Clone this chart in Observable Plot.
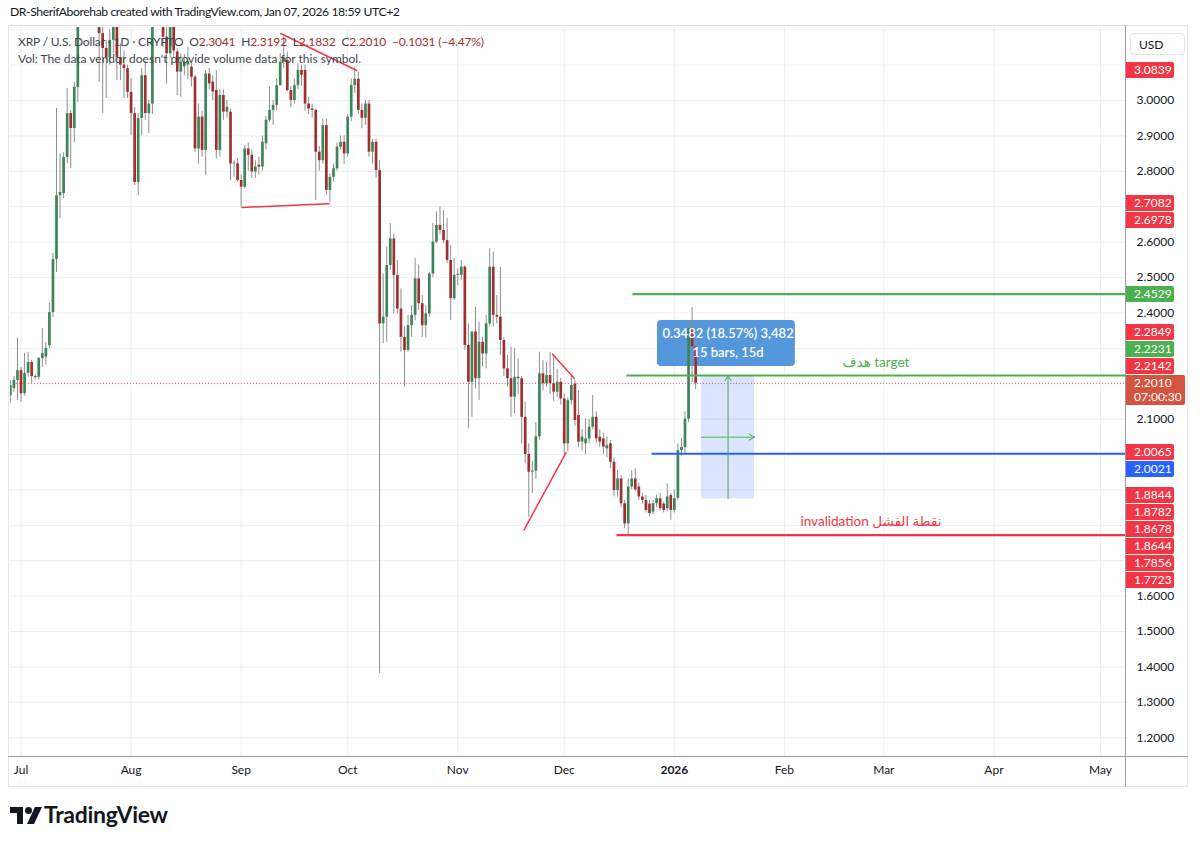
<!DOCTYPE html>
<html><head><meta charset="utf-8">
<script src="https://cdn.jsdelivr.net/npm/d3@7"></script>
<script src="https://cdn.jsdelivr.net/npm/@observablehq/plot@0.6"></script>
<style>
html,body{margin:0;padding:0;background:#fff;overflow:hidden;}
#wrap{position:relative;width:1200px;height:843px;font-family:Lato,"Noto Sans","DejaVu Sans",sans-serif;color:#131722;}
#wrap svg{position:absolute;left:0;top:0;}
.ov{position:absolute;white-space:nowrap;}
.plab{position:absolute;left:1126px;width:48px;height:16px;line-height:16px;font-size:12px;color:#fff;padding-left:8px;box-sizing:border-box;border-radius:0 2px 2px 0;}
</style></head>
<body><div id="wrap"></div>
<script>
// ---------- data (daily candles, first candle 2025-06-28) ----------
const firstDay = "2025-06-28";
const open = [
2.166,2.186,2.209,2.237,2.172,2.229,2.260,2.220,2.218,2.271,
2.275,2.307,2.401,2.551,2.731,2.737,2.839,2.963,2.921,3.037,
3.43,3.51,3.45,3.50,3.53,3.47,3.189,3.147,3.12,3.17,
3.25,3.121,3.10,3.09,3.023,2.963,2.768,2.949,3.07,2.963,
2.99,3.30,3.33,3.25,3.179,3.132,3.24,3.137,3.080,3.095,
3.10,3.094,3.066,2.863,2.953,2.859,3.075,3.052,3.028,2.859,
3.014,2.967,2.967,2.821,2.821,2.774,2.755,2.863,2.845,2.798,
2.817,2.812,2.878,2.944,2.972,2.986,3.042,3.108,3.113,3.028,
3.0,3.042,3.085,3.085,2.99,2.976,2.972,2.854,2.83,2.929,
2.746,2.783,2.807,2.868,2.882,2.849,2.953,3.042,3.06,2.972,
2.95,2.99,2.854,2.882,2.802,2.369,2.388,2.534,2.609,2.506,
2.411,2.331,2.294,2.364,2.393,2.496,2.426,2.364,2.397,2.510,
2.600,2.647,2.633,2.604,2.548,2.44,2.506,2.506,2.529,2.308,
2.204,2.346,2.214,2.317,2.284,2.369,2.529,2.393,2.388,2.322,
2.242,2.214,2.162,2.218,2.214,2.105,2.0,1.95,1.953,2.05,
2.228,2.2,2.223,2.2,2.176,2.204,2.157,2.03,2.152,2.199,
2.11,2.035,2.03,2.044,2.077,2.105,2.049,2.044,2.016,2.03,
1.978,1.898,1.931,1.861,1.804,1.908,1.931,1.908,1.88,1.87,
1.86,1.837,1.861,1.875,1.86,1.847,1.884,1.842,1.876,2.011,
2.02,2.10,2.356,2.3041];
const high = [
2.209,2.220,2.328,2.246,2.285,2.288,2.266,2.225,2.274,2.356,
2.316,2.427,2.568,2.977,2.850,2.853,3.034,2.972,3.051,3.48,
3.66,3.60,3.55,3.62,3.60,3.50,3.24,3.17,3.20,3.30,
3.30,3.16,3.14,3.10,3.062,2.980,2.963,3.09,3.11,3.00,
3.32,3.38,3.36,3.28,3.21,3.27,3.30,3.146,3.132,3.13,
3.15,3.104,3.07,2.99,2.97,3.085,3.09,3.07,3.085,3.03,
3.03,3.0,2.976,2.83,2.835,2.79,2.873,2.88,2.86,2.83,
2.84,2.90,2.955,3.038,3.0,3.06,3.132,3.18,3.137,3.04,
3.06,3.104,3.10,3.10,3.01,2.99,2.976,2.87,2.948,2.948,
2.793,2.82,2.88,2.90,2.90,2.96,3.061,3.094,3.08,2.99,
3.0,3.0,2.89,2.89,2.83,2.51,2.586,2.652,2.623,2.548,
2.468,2.36,2.393,2.42,2.553,2.534,2.449,2.42,2.515,2.652,
2.685,2.699,2.689,2.666,2.59,2.553,2.524,2.548,2.534,2.369,
2.346,2.416,2.374,2.331,2.393,2.581,2.572,2.449,2.529,2.33,
2.28,2.303,2.30,2.27,2.22,2.148,2.03,1.98,2.09,2.289,
2.265,2.26,2.288,2.28,2.24,2.215,2.17,2.16,2.22,2.21,
2.18,2.07,2.10,2.10,2.167,2.12,2.07,2.06,2.05,2.04,
1.99,1.955,1.94,1.87,1.93,1.955,1.96,1.92,1.89,1.885,
1.87,1.87,1.885,1.89,1.865,1.917,1.89,1.90,2.03,2.045,
2.12,2.37,2.415,2.3192];
const low = [
2.144,2.175,2.153,2.147,2.166,2.218,2.200,2.210,2.209,2.246,
2.252,2.299,2.387,2.514,2.666,2.723,2.822,2.808,2.881,2.994,
3.30,3.42,3.38,3.42,3.40,3.051,2.963,3.006,3.10,3.133,
3.056,3.056,3.006,3.006,2.901,2.760,2.731,2.90,2.944,2.907,
2.96,3.21,3.22,3.15,3.047,3.12,3.12,3.014,3.009,3.07,
3.06,3.038,2.854,2.821,2.84,2.788,3.03,3.0,2.835,2.84,
2.944,2.95,2.774,2.783,2.77,2.699,2.75,2.80,2.78,2.78,
2.79,2.80,2.86,2.939,2.93,2.97,3.04,3.09,3.024,2.98,
2.99,3.03,3.04,2.97,2.96,2.95,2.718,2.80,2.82,2.732,
2.713,2.77,2.80,2.86,2.82,2.84,2.94,3.02,2.96,2.92,
2.93,2.84,2.821,2.78,1.381,2.313,2.317,2.52,2.397,2.397,
2.289,2.19,2.289,2.331,2.378,2.407,2.331,2.33,2.388,2.50,
2.595,2.62,2.595,2.539,2.379,2.435,2.477,2.492,2.294,2.072,
2.105,2.185,2.153,2.247,2.242,2.36,2.36,2.369,2.28,2.22,
2.19,2.105,2.115,2.17,2.03,1.974,1.823,1.89,1.93,2.04,
2.18,2.19,2.17,2.15,2.16,2.14,2.0,2.007,2.14,2.08,
2.02,2.01,2.0,2.03,2.07,2.03,2.02,2.0,1.99,1.96,
1.88,1.88,1.85,1.79,1.7723,1.90,1.895,1.87,1.86,1.835,
1.825,1.83,1.85,1.84,1.835,1.838,1.814,1.835,1.87,1.995,
2.0,2.09,2.203,2.1832];
const close = [
2.195,2.209,2.237,2.172,2.229,2.260,2.220,2.217,2.271,2.285,
2.299,2.401,2.551,2.731,2.740,2.839,2.963,2.921,3.037,3.43,
3.51,3.45,3.50,3.53,3.47,3.189,3.147,3.12,3.17,3.25,
3.121,3.10,3.09,3.023,2.963,2.768,2.949,3.07,2.963,2.99,
3.30,3.33,3.25,3.179,3.132,3.24,3.14,3.080,3.108,3.108,
3.11,3.066,2.863,2.953,2.859,3.075,3.047,3.024,2.859,3.014,
2.967,2.981,2.821,2.823,2.774,2.755,2.863,2.845,2.798,2.812,
2.812,2.882,2.944,2.972,2.986,3.042,3.108,3.12,3.028,3.0,
3.042,3.085,3.071,2.99,2.976,2.972,2.854,2.83,2.929,2.746,
2.783,2.807,2.868,2.882,2.849,2.953,3.042,3.06,2.972,2.95,
2.99,2.854,2.882,2.802,2.369,2.388,2.534,2.609,2.506,2.411,
2.331,2.294,2.364,2.393,2.496,2.426,2.364,2.397,2.510,2.600,
2.647,2.633,2.604,2.548,2.44,2.506,2.509,2.529,2.308,2.204,
2.346,2.214,2.317,2.284,2.369,2.529,2.393,2.388,2.322,2.242,
2.214,2.162,2.218,2.214,2.105,2.0,1.95,1.953,2.05,2.228,
2.2,2.223,2.2,2.176,2.204,2.157,2.03,2.152,2.195,2.096,
2.035,2.049,2.044,2.077,2.105,2.044,2.035,2.021,2.025,1.978,
1.898,1.931,1.861,1.804,1.908,1.931,1.90,1.88,1.87,1.842,
1.833,1.861,1.875,1.847,1.842,1.88,1.842,1.875,2.011,2.02,
2.10,2.356,2.304,2.2010];

// axis ticks & labels
const priceTicks = [1.2,1.3,1.4,1.5,1.6,1.7,1.8,1.9,2.0,2.1,2.2,2.3,2.4,2.5,2.6,2.7,2.8,2.9,3.0,3.1];
const gridTicks = [...priceTicks, 3.2];
const monthTicks = ["2025-07-01","2025-08-01","2025-09-01","2025-10-01","2025-11-01","2025-12-01","2026-01-01","2026-02-01","2026-03-01","2026-04-01","2026-05-01"];
const monthLabels = ["Jul","Aug","Sep","Oct","Nov","Dec","2026","Feb","Mar","Apr","May"];

// drawings (red trend lines)
const trendX1 = ["2025-09-12T00:00Z","2025-09-01T02:00Z","2025-11-27T14:00Z","2025-11-19T14:00Z"];
const trendY1 = [3.190, 2.6978, 2.2849, 1.7856];
const trendX2 = ["2025-10-03T17:00Z","2025-09-25T22:00Z","2025-12-03T22:00Z","2025-12-01T14:00Z"];
const trendY2 = [3.0839, 2.7082, 2.2142, 2.0065];

// horizontal rays (extend to the right)
const rayStart = ["2025-12-20T05:00Z","2025-12-18T12:00Z","2025-12-25T14:00Z","2025-12-15T17:00Z"];
const rayPrice = [2.4529, 2.2231, 2.0021, 1.7723];
const rayColor = ["#4caf50","#4caf50","#2962ff","#f23645"];

// price-range measurement
const rangeStart = "2026-01-08T16:00Z", rangeEnd = "2026-01-23T14:00Z";
const rangeLow = 1.8749, rangeHigh = 2.2231;
const tipLines = ["0.3482 (18.57%) 3,482", "15 bars, 15d"];
const tipBox = {x1:"2025-12-27T06:00Z", x2:"2026-02-04T02:00Z", y1:2.2486, y2:2.3785};
const tipTextY = [2.3418, 2.2881];

const lastPrice = 2.2010;
const axisLabelValues = [3.0839, 2.7082, 2.6978, 2.4529, 2.2849, 2.2231, 2.2142, 2.0065, 2.0021, 1.8844, 1.8782, 1.8678, 1.8644, 1.7856, 1.7723];
const axisLabelKinds  = ["r","r","r","g","r","g","r","r","b","r","r","r","r","r","r"];

// ---------- build ----------
const UP = "#3d8558", DOWN = "#a0302f", WICK = "#8e8e8e";
const kindColor = {r:"#f23645", g:"#4caf50", b:"#2962ff"};
const FONT = 'Lato, "Noto Sans", "DejaVu Sans", sans-serif';

const t0 = new Date(firstDay + "T00:00Z");
const dates = d3.utcDay.range(t0, d3.utcDay.offset(t0, open.length));
const candles = dates.map((date, i) => ({date, open: open[i], high: high[i], low: low[i], close: close[i]}));
const ups = candles.filter(d => d.close >= d.open);
const downs = candles.filter(d => d.close < d.open);

const jan1 = new Date("2026-01-01T00:00Z");
const DAY = 864e5;
const xDomain = [new Date(+jan1 - 186.96 * DAY), new Date(+jan1 + 127.06 * DAY)];
const yDomain = [1.1469, 3.2062];
const H = 843, MT = 27, MB = 87;
const yPix = d3.scaleLinear(yDomain, [H - MB, MT]); // same mapping as the plot's y scale

// stacked price labels on the price scale (TradingView style)
const curP = yPix(lastPrice);
const curTop = curP - 8, curBot = curP + 22;
const items = axisLabelValues.map((v, i) => ({v, k: axisLabelKinds[i], p: yPix(v)})).sort((a, b) => b.v - a.v);
const above = items.filter(d => d.v > lastPrice), below = items.filter(d => d.v <= lastPrice);
let prev = -1e9;
for (const d of above) { d.p = Math.max(d.p, prev + 17); prev = d.p; }
let lim = curTop - 1;
for (let i = above.length - 1; i >= 0; --i) { const d = above[i]; d.p = Math.min(d.p, lim - 8); lim = d.p - 9; }
let nextTop = curBot + 1;
for (const d of below) { d.p = Math.max(d.p, nextTop + 8); nextTop = d.p + 9; }
const boxes = [...items.map(d => [d.p - 8, d.p + 8]), [curTop, curBot]];
// tick labels hidden behind the price labels are not drawn
const shownTicks = priceTicks.filter(t => { const p = yPix(t); return !boxes.some(([a, b]) => p + 7 > a && p - 7 < b); });

const ticksX = monthTicks.map(s => new Date(s + "T00:00Z"));
const labelByTime = new Map(ticksX.map((d, i) => [+d, monthLabels[i]]));

const trends = trendX1.map((s, i) => ({x1: new Date(s), y1: trendY1[i], x2: new Date(trendX2[i]), y2: trendY2[i]}));
const rays = rayStart.map((s, i) => ({x1: new Date(s), x2: xDomain[1], y: rayPrice[i], c: rayColor[i]}));
const rs = new Date(rangeStart), re = new Date(rangeEnd);
const rmid = new Date((+rs + +re) / 2);
const midY = (rangeLow + rangeHigh) / 2;

const tgt = rays[1], inv = rays[3];
const annot = [
  {x: new Date((+tgt.x1 + +tgt.x2) / 2), y: tgt.y, t: "هدف target", c: "#4caf50"},
  {x: new Date((+inv.x1 + +inv.x2) / 2), y: inv.y, t: "invalidation نقطة الفشل", c: "#f23645"}
];

const chart = Plot.plot({
  width: 1200, height: H,
  marginTop: MT, marginBottom: MB, marginLeft: 10, marginRight: 75,
  style: {fontFamily: FONT, fontSize: "12px", color: "#131722", background: "transparent", overflow: "visible"},
  x: {type: "utc", domain: xDomain, axis: null},
  y: {domain: yDomain, axis: null},
  marks: [
    Plot.gridY(gridTicks, {stroke: "#eceef2", strokeOpacity: 1}),
    Plot.gridX(ticksX, {stroke: "#eceef2", strokeOpacity: 1}),
    Plot.axisY(shownTicks, {anchor: "right", tickSize: 0, tickPadding: 11, tickFormat: d => d.toFixed(4), fontSize: 12}),
    Plot.axisX(ticksX, {anchor: "bottom", tickSize: 0, tickPadding: 9, tickFormat: d => labelByTime.get(+d), fontSize: 12}),
    // price range box
    Plot.rect([{}], {x1: () => rs, x2: () => re, y1: () => rangeLow, y2: () => rangeHigh, fill: "#2962ff", fillOpacity: 0.17}),
    // measurement tooltip box
    Plot.rect([tipBox], {x1: d => new Date(d.x1), x2: d => new Date(d.x2), y1: "y1", y2: "y2", fill: "#5597dc", rx: 4}),
    // current price dotted line
    Plot.ruleY([lastPrice], {stroke: "#f23645", strokeOpacity: 0.75, strokeDasharray: "1,2", strokeWidth: 1}),
    // candles
    Plot.ruleX(candles, {x: "date", y1: "low", y2: "high", stroke: WICK, strokeWidth: 1, clip: true}),
    Plot.ruleX(ups, {x: "date", y1: "open", y2: "close", stroke: UP, strokeWidth: 2.7, clip: true}),
    Plot.ruleX(downs, {x: "date", y1: "open", y2: "close", stroke: DOWN, strokeWidth: 2.7, clip: true}),
    // drawings
    Plot.link(trends, {x1: "x1", y1: "y1", x2: "x2", y2: "y2", stroke: "#f23645", strokeWidth: 1.5}),
    Plot.link(rays, {x1: "x1", x2: "x2", y1: "y", y2: "y", stroke: d => d.c, strokeWidth: 2.2}),
    Plot.arrow([{}], {x1: () => rmid, x2: () => rmid, y1: () => rangeLow, y2: () => rangeHigh, stroke: "#4caf50", strokeWidth: 1, headLength: 9}),
    Plot.arrow([{}], {x1: () => rs, x2: () => re, y1: () => midY, y2: () => midY, stroke: "#4caf50", strokeWidth: 1, headLength: 9}),
    Plot.text(tipLines, {x: () => rmid, y: (d, i) => tipTextY[i], text: d => d, fill: "#fff", fontSize: 13, fontWeight: 600}),
    Plot.text(annot, {x: "x", y: "y", text: "t", fill: "c", dy: -13, fontSize: 13.5})
  ]
});
const wrap = document.getElementById("wrap");
wrap.appendChild(chart);
d3.select(chart).selectAll("text").filter(function(){ return this.textContent === "2026"; }).attr("font-weight", "bold");

// ---------- overlays: frame lines, header, legend, price labels, logo ----------
function ov(html, style, cls) {
  const el = document.createElement("div");
  el.className = cls || "ov";
  el.innerHTML = html;
  Object.assign(el.style, style);
  wrap.appendChild(el);
  return el;
}
ov("", {left: "8px", top: "25px", width: "1180px", height: "762px", border: "1px solid #e3e5ea", boxSizing: "border-box"});
ov("", {left: "1125px", top: "25px", width: "1px", height: "762px", background: "#9a9ca3"});
ov("", {left: "8px", top: "756px", width: "1180px", height: "1px", background: "#9a9ca3"});

ov("DR-SherifAborehab created with TradingView.com, Jan 07, 2026 18:59 UTC+2", {left: "10px", top: "4px", fontSize: "12.2px", letterSpacing: "-0.4px", color: "#131722"});
const vc = "#a0302f";
ov(`XRP / U.S. Dollar · 1D · CRYPTO&nbsp;&nbsp;O<span style="color:${vc}">2.3041</span>&nbsp;&nbsp;H<span style="color:${vc}">2.3192</span>&nbsp;&nbsp;L<span style="color:${vc}">2.1832</span>&nbsp;&nbsp;C<span style="color:${vc}">2.2010</span>&nbsp;&nbsp;<span style="color:${vc}">−0.1031 (−4.47%)</span>`,
   {left: "18px", top: "34px", fontSize: "12px", letterSpacing: "-0.15px", color: "#42454d"});
ov("Vol: The data vendor doesn't provide volume data for this symbol.", {left: "18px", top: "51px", fontSize: "12px", color: "#42454d"});

ov("USD", {left: "1130px", top: "33px", width: "55px", height: "22px", lineHeight: "22px", border: "1px solid #e3e5ea", borderRadius: "4px", boxSizing: "border-box", paddingLeft: "8px", fontSize: "12px", background: "#fff"});

for (const d of items) {
  ov(d.v.toFixed(4), {top: (d.p - 8) + "px", background: kindColor[d.k]}, "plab");
}
ov(`${lastPrice.toFixed(4)}<br>07:00:30`, {left: "1126px", top: curTop + "px", width: "59px", height: "30px", lineHeight: "14px", paddingTop: "1px", paddingLeft: "8px", boxSizing: "border-box", fontSize: "12px", color: "#fff", background: "#d4553f", borderRadius: "0 2px 2px 0"});

// TradingView logo
const logo = ov("", {left: "10px", top: "803px", width: "170px", height: "26px"});
logo.innerHTML = `
<div style="position:absolute;left:0;top:4px;width:13px;height:6px;background:#131722"></div>
<div style="position:absolute;left:7px;top:4px;width:6px;height:17px;background:#131722"></div>
<div style="position:absolute;left:15px;top:4px;width:7px;height:7px;border-radius:50%;background:#131722"></div>
<div style="position:absolute;left:21px;top:4px;width:7px;height:17px;background:#131722;transform:skewX(-25deg)"></div>
<div style="position:absolute;left:34px;top:-3px;font-size:23px;font-weight:700;color:#131722;letter-spacing:-0.3px">TradingView</div>`;
</script>
</body></html>
